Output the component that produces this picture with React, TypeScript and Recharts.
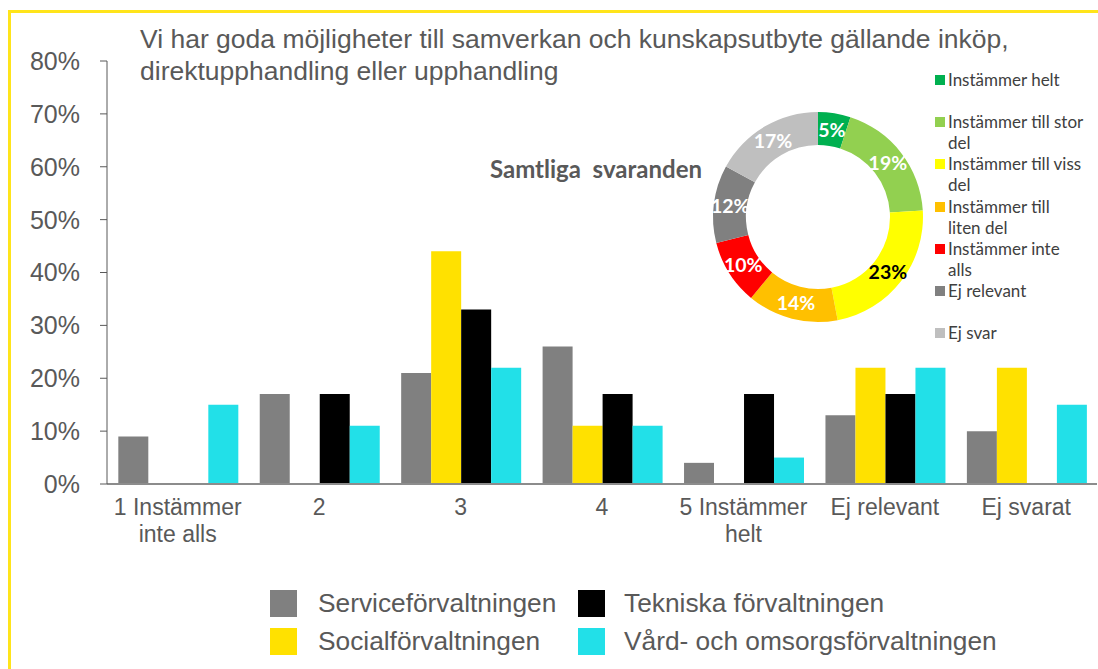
import React from "react";
import { BarChart, Bar, XAxis, YAxis, PieChart, Pie, Cell } from "recharts";

const categories = ["1 Instämmer\ninte alls", "2", "3", "4", "5 Instämmer\nhelt", "Ej relevant", "Ej svarat"];
const serviceValues = [9, 17, 21, 26, 4, 13, 10];
const socialValues = [0, 0, 44, 11, 0, 22, 22];
const tekniskaValues = [0, 17, 33, 17, 17, 17, 0];
const vardValues = [15, 11, 22, 11, 5, 22, 15];
const yTicks = [0, 10, 20, 30, 40, 50, 60, 70, 80];

const seriesNames = ["Serviceförvaltningen", "Socialförvaltningen", "Tekniska förvaltningen", "Vård- och omsorgsförvaltningen"];
const seriesColors = ["#808080", "#FFE100", "#000000", "#22E0E8"];

const pieNames = ["Instämmer helt", "Instämmer till stor\ndel", "Instämmer till viss\ndel", "Instämmer till\nliten del", "Instämmer inte\nalls", "Ej relevant", "Ej svar"];
const pieValues = [5, 19, 23, 14, 10, 12, 17];
const pieColors = ["#00B050", "#92D050", "#FFFF00", "#FFC000", "#FF0000", "#808080", "#BFBFBF"];
const pieLabelColors = ["#FFFFFF", "#FFFFFF", "#000000", "#FFFFFF", "#FFFFFF", "#FFFFFF", "#FFFFFF"];

const title1 = "Vi har goda möjligheter till samverkan och kunskapsutbyte gällande inköp,";
const title2 = "direktupphandling eller upphandling";
const pieTitle = "Samtliga  svaranden";

const barData = categories.map((c, i) => ({
  name: c,
  service: serviceValues[i],
  social: socialValues[i],
  tekniska: tekniskaValues[i],
  vard: vardValues[i],
}));
const pieData = pieNames.map((n, i) => ({ name: n, value: pieValues[i] }));

const TXT = "#595959";
const FONT = "'Liberation Sans', Arial, sans-serif";
const CAL = "Lato, 'Open Sans', sans-serif";

const XTick = (props: any) => {
  const { x, y, payload } = props;
  const lines = String(payload.value).split("\n");
  return (
    <text x={x} y={y} textAnchor="middle" fill={TXT} fontSize={23} fontFamily={FONT}>
      {lines.map((l: string, i: number) => (
        <tspan key={i} x={x} dy={i === 0 ? 25 : 27}>{l}</tspan>
      ))}
    </text>
  );
};

const RAD = Math.PI / 180;
const PieLabel = (props: any) => {
  const { cx, cy, midAngle, innerRadius, outerRadius, value, index } = props;
  const r = (innerRadius + outerRadius) / 2;
  const x = cx + r * Math.cos(-midAngle * RAD);
  const y = cy + r * Math.sin(-midAngle * RAD);
  return (
    <text x={x} y={y} textAnchor="middle" dominantBaseline="central" fill={pieLabelColors[index]} fontSize={19.5} fontWeight="bold" fontFamily={CAL}>
      {value}%
    </text>
  );
};

const legendOrder = [0, 2, 1, 3];

export default function App() {
  return (
    <div style={{ position: "absolute", left: 0, top: 0, width: 1098, height: 669, background: "#fff", overflow: "hidden" }}>
      <div style={{ position: "absolute", left: 8, top: 10, width: 1098, height: 669, borderTop: "3px solid #FFE41A", borderLeft: "3px solid #FFE41A", boxSizing: "border-box" }} />
      <BarChart
        width={1098}
        height={669}
        data={barData}
        margin={{ top: 61, right: 1, left: 0, bottom: 125 }}
        barCategoryGap="8%"
        barGap={0}
        style={{ position: "absolute", left: 0, top: 0 }}
      >
        <XAxis
          dataKey="name"
          tick={<XTick />}
          tickLine={false}
          axisLine={{ stroke: "#8C8C8C", strokeWidth: 2 }}
          interval={0}
          height={60}
          tickMargin={0}
        />
        <YAxis
          width={107}
          domain={[0, 80]}
          ticks={yTicks}
          tickFormatter={(v: number) => v + "%"}
          tick={{ fill: TXT, fontSize: 25, fontFamily: FONT }}
          tickSize={7}
          tickMargin={20}
          axisLine={{ stroke: "#595959", strokeWidth: 1 }}
          tickLine={{ stroke: "#595959", strokeWidth: 1 }}
          interval={0}
        />
        <Bar dataKey="service" fill={seriesColors[0]} isAnimationActive={false} />
        <Bar dataKey="social" fill={seriesColors[1]} isAnimationActive={false} />
        <Bar dataKey="tekniska" fill={seriesColors[2]} isAnimationActive={false} />
        <Bar dataKey="vard" fill={seriesColors[3]} isAnimationActive={false} />
      </BarChart>

      <div style={{ position: "absolute", left: 140, top: 23, fontFamily: FONT, fontSize: 26.5, color: TXT, lineHeight: "32px", whiteSpace: "pre" }}>
        {title1}
        {"\n"}
        {title2}
      </div>

      <div style={{ position: "absolute", left: 490, top: 154, fontFamily: CAL, fontSize: 24, fontWeight: "bold", color: TXT, whiteSpace: "pre" }}>
        {pieTitle}
      </div>

      <PieChart width={240} height={240} margin={{ top: 0, right: 0, bottom: 0, left: 0 }} style={{ position: "absolute", left: 698, top: 97 }}>
        <Pie
          data={pieData}
          dataKey="value"
          cx={120}
          cy={120}
          innerRadius={72}
          outerRadius={105}
          startAngle={90}
          endAngle={-270}
          stroke="none"
          label={<PieLabel />}
          labelLine={false}
          isAnimationActive={false}
        >
          {pieData.map((d, i) => (
            <Cell key={i} fill={pieColors[i]} />
          ))}
        </Pie>
      </PieChart>

      {pieNames.map((n, i) => (
        <div key={i} style={{ position: "absolute", left: 935, top: 69 + 42.2 * i, fontFamily: CAL, fontSize: 17, color: "#404040", lineHeight: "21px", whiteSpace: "pre" }}>
          <span style={{ position: "absolute", left: 0, top: 6, width: 10, height: 10, background: pieColors[i] }} />
          <div style={{ marginLeft: 13 }}>{n}</div>
        </div>
      ))}

      {legendOrder.map((si, k) => {
        const col = k % 2;
        const row = Math.floor(k / 2);
        return (
          <div key={si} style={{ position: "absolute", left: col === 0 ? 270 : 578, top: 590 + row * 38, height: 27, display: "flex", alignItems: "center", fontFamily: FONT, fontSize: 26.3, color: TXT, whiteSpace: "pre" }}>
            <span style={{ display: "inline-block", width: 27, height: 27, background: seriesColors[si], marginRight: 21 - (col === 0 ? 0 : 2) }} />
            {seriesNames[si]}
          </div>
        );
      })}
    </div>
  );
}
